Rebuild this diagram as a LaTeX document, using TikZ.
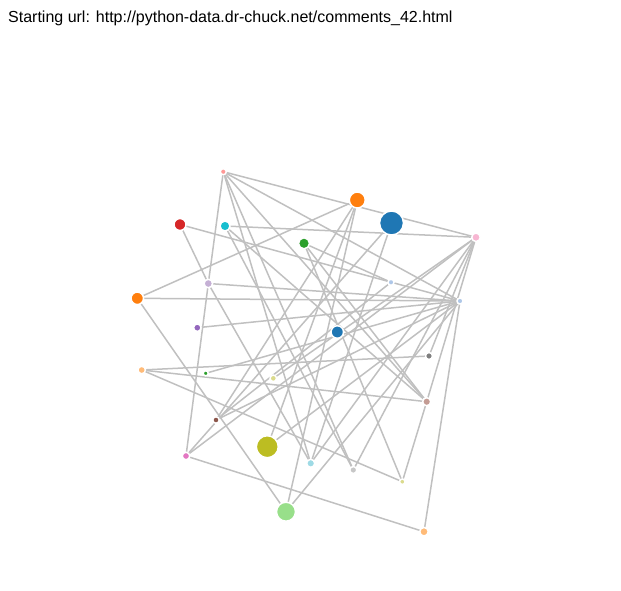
\documentclass[tikz,border=0pt]{standalone}
\usepackage{fontspec}
\setmainfont{Liberation Sans}
\usetikzlibrary{backgrounds}
\definecolor{edgec}{RGB}{192,192,192}
\definecolor{cBlue}{HTML}{1F77B4}
\definecolor{cLBlue}{HTML}{AEC7E8}
\definecolor{cOrange}{HTML}{FF7F0E}
\definecolor{cLOrange}{HTML}{FFBB78}
\definecolor{cGreen}{HTML}{2CA02C}
\definecolor{cLGreen}{HTML}{98DF8A}
\definecolor{cRed}{HTML}{D62728}
\definecolor{cLRed}{HTML}{FF9896}
\definecolor{cPurple}{HTML}{9467BD}
\definecolor{cLPurple}{HTML}{C5B0D5}
\definecolor{cBrown}{HTML}{8C564B}
\definecolor{cLBrown}{HTML}{C49C94}
\definecolor{cPink}{HTML}{E377C2}
\definecolor{cLPink}{HTML}{F7B6D2}
\definecolor{cGrey}{HTML}{7F7F7F}
\definecolor{cLGrey}{HTML}{C7C7C7}
\definecolor{cOlive}{HTML}{BCBD22}
\definecolor{cLOlive}{HTML}{DBDB8D}
\definecolor{cCyan}{HTML}{17BECF}
\definecolor{cLCyan}{HTML}{9EDAE5}
\begin{document}
\begin{tikzpicture}[x=1pt,y=-1pt,
  dot/.style={circle,inner sep=0pt,minimum size=#1,draw=white,line width=1.5pt},
  edge/.style={draw=edgec,line width=1.5pt},
  title/.style={anchor=base west,inner sep=0pt,font=\fontsize{16}{19}\selectfont}]
\useasboundingbox (0,0) rectangle (621,590);
\node[title] (t) at (8,22) {Starting url: http://python-data.dr-chuck.net/comments\_42.html};
% nodes
\node[dot=6pt,fill=cLRed]    (n1)  at (223.3,171.7) {};
\node[dot=16pt,fill=cOrange] (n2)  at (357.3,200) {};
\node[dot=24pt,fill=cBlue]   (n3)  at (391.5,223) {};
\node[dot=12pt,fill=cRed]    (n4)  at (180,224.5) {};
\node[dot=10pt,fill=cCyan]   (n5)  at (225,226) {};
\node[dot=11pt,fill=cGreen]  (n6)  at (304,243.3) {};
\node[dot=8.5pt,fill=cLPink] (n7)  at (476,237.3) {};
\node[dot=6pt,fill=cLBlue]   (n8)  at (391,282.3) {};
\node[dot=12.5pt,fill=cOrange] (n9) at (137.3,298.3) {};
\node[dot=8.5pt,fill=cLPurple] (n10) at (208.3,283.5) {};
\node[dot=6pt,fill=cLBlue]   (n11) at (460,301) {};
\node[dot=7.5pt,fill=cPurple] (n12) at (197.3,327.7) {};
\node[dot=12.5pt,fill=cBlue] (n13) at (337.3,332) {};
\node[dot=7pt,fill=cGrey]    (n14) at (429,356) {};
\node[dot=7.5pt,fill=cLOrange] (n15) at (141.7,370) {};
\node[dot=5pt,fill=cGreen]   (n16) at (205.7,373.3) {};
\node[dot=6.5pt,fill=cLOlive] (n17) at (273.3,378.3) {};
\node[dot=8pt,fill=cLBrown]  (n18) at (426.7,401.7) {};
\node[dot=6.5pt,fill=cBrown] (n19) at (216,420) {};
\node[dot=22pt,fill=cOlive]  (n20) at (267.3,446.7) {};
\node[dot=7.5pt,fill=cPink]  (n21) at (186,456) {};
\node[dot=8pt,fill=cLCyan]   (n22) at (310.7,463.3) {};
\node[dot=7pt,fill=cLGrey]   (n23) at (353.3,470) {};
\node[dot=5.5pt,fill=cLOlive] (n24) at (402.3,481.7) {};
\node[dot=19pt,fill=cLGreen] (n25) at (286,511.7) {};
\node[dot=8.5pt,fill=cLOrange] (n26) at (424,531.7) {};
% edges
\begin{pgfonlayer}{background}
\foreach \a/\b in {n1/n10,n1/n7,n1/n11,n1/n18,n1/n23,n1/n22,
  n4/n10,n4/n11,n5/n7,n5/n23,n5/n18,n6/n8,n6/n24,n6/n18,
  n9/n2,n9/n11,n9/n25,n10/n11,n10/n21,n10/n22,n12/n11,n16/n11,
  n15/n14,n15/n18,n15/n24,n18/n24,n7/n18,n11/n26,n21/n26,
  n25/n11,n25/n2,n3/n22,n22/n7,n23/n7,n20/n2,n20/n11,
  n21/n7,n21/n3,n19/n8,n19/n11,n19/n2,n17/n7,n14/n7}
  \path[edge] (\a.center) -- (\b.center);
\end{pgfonlayer}
\end{tikzpicture}
\end{document}
